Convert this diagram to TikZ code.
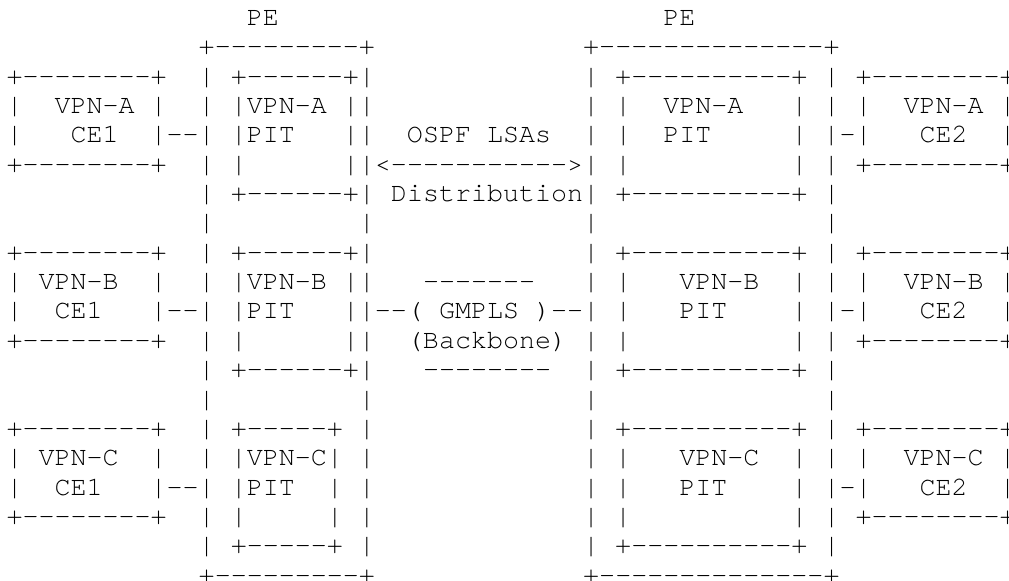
\documentclass[tikz,border=0pt]{standalone}
\usepackage{fontspec}
\setmonofont{texgyrecursor-regular.otf}
\usepackage{tikz}

% keep every space of an ascii row
{\catcode`\ =\active\gdef\keepspaces{\catcode`\ =\active\let =\asciisp}}
\def\asciisp{\ }

\tikzstyle{asciirow} = [anchor=base west, inner sep=0pt, outer sep=0pt,
    font=\ttfamily\fontsize{13.35pt}{14.675pt}\selectfont]

\begin{document}
\begin{tikzpicture}[x=8.01pt,y=-14.675pt]

  \path[use as bounding box,fill=white] (-0.406,-0.869) rectangle (62.578,18.893);

  \node[asciirow] (r0)  at (0,0)  {\keepspaces               PE                        PE};
  \node[asciirow] (r1)  at (0,1)  {\keepspaces            +---------+             +--------------+};
  \node[asciirow] (r2)  at (0,2)  {\keepspaces+--------+  | +------+|             | +----------+ | +--------+};
  \node[asciirow] (r3)  at (0,3)  {\keepspaces|  VPN-A |  | |VPN-A ||             | |  VPN-A   | | |  VPN-A |};
  \node[asciirow] (r4)  at (0,4)  {\keepspaces|   CE1  |--| |PIT   ||  OSPF LSAs  | |  PIT     | |-|   CE2  |};
  \node[asciirow] (r5)  at (0,5)  {\keepspaces+--------+  | |      ||<----------->| |          | | +--------+};
  \node[asciirow] (r6)  at (0,6)  {\keepspaces            | +------+| Distribution| +----------+ |};
  \node[asciirow] (r7)  at (0,7)  {\keepspaces            |         |             |              |};
  \node[asciirow] (r8)  at (0,8)  {\keepspaces+--------+  | +------+|             | +----------+ | +--------+};
  \node[asciirow] (r9)  at (0,9)  {\keepspaces| VPN-B  |  | |VPN-B ||   -------   | |   VPN-B  | | |  VPN-B |};
  \node[asciirow] (r10) at (0,10) {\keepspaces|  CE1   |--| |PIT   ||--( GMPLS )--| |   PIT    | |-|   CE2  |};
  \node[asciirow] (r11) at (0,11) {\keepspaces+--------+  | |      ||  (Backbone) | |          | | +--------+};
  \node[asciirow] (r12) at (0,12) {\keepspaces            | +------+|   --------  | +----------+ |};
  \node[asciirow] (r13) at (0,13) {\keepspaces            |         |             |              |};
  \node[asciirow] (r14) at (0,14) {\keepspaces+--------+  | +-----+ |             | +----------+ | +--------+};
  \node[asciirow] (r15) at (0,15) {\keepspaces| VPN-C  |  | |VPN-C| |             | |   VPN-C  | | |  VPN-C |};
  \node[asciirow] (r16) at (0,16) {\keepspaces|  CE1   |--| |PIT  | |             | |   PIT    | |-|   CE2  |};
  \node[asciirow] (r17) at (0,17) {\keepspaces+--------+  | |     | |             | |          | | +--------+};
  \node[asciirow] (r18) at (0,18) {\keepspaces            | +-----+ |             | +----------+ |};
  \node[asciirow] (r19) at (0,19) {\keepspaces            +---------+             +--------------+};
\end{tikzpicture}
\end{document}
